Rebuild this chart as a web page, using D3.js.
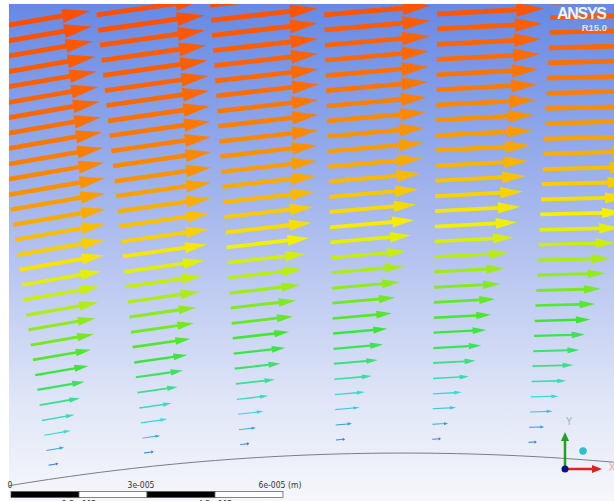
<!DOCTYPE html>
<html><head><meta charset="utf-8">
<script src="https://cdn.jsdelivr.net/npm/d3@7"></script>
<style>html,body{margin:0;padding:0;background:#fff;overflow:hidden}</style>
</head><body><svg id="c" width="614" height="501"></svg>
<script>
// ---- data ----
// wall distance of each mesh layer (micrometres)
const layerDistanceUm = [3.1, 6.4, 9.8, 13.1, 16.5, 19.9, 23.2, 26.6, 29.9, 33.3,
  36.6, 40.0, 43.3, 46.7, 50.0, 53.4, 56.7, 60.1, 63.4, 66.8,
  70.1, 73.5, 76.8, 80.2, 83.5, 86.9, 90.2, 93.6, 96.9, 100.3];
// normalised velocity magnitude of each layer (first column)
const layerSpeed = [0.085, 0.153, 0.229, 0.28, 0.347, 0.407, 0.458, 0.5, 0.542, 0.576,
  0.619, 0.653, 0.686, 0.725, 0.754, 0.775, 0.797, 0.815, 0.83, 0.844,
  0.854, 0.864, 0.873, 0.884, 0.888, 0.894, 0.898, 0.903, 0.91, 0.915];
// polar position of each column of nodes (deg, positive = left of top)
const columnPolarDeg = [8.45, 6.17, 3.89, 1.61, -0.67, -2.95];
// flow direction of each column (deg above horizontal)
const columnFlowDeg = [9.8, 8.1, 6.5, 5.0, 3.0, 1.5];
// near-wall speed factor of each column (boundary layer slows downstream)
const columnWallFactor = [1.0, 0.99, 0.95, 0.9, 0.86, 0.82];
// ruler
const rulerTicks = [0, 3e-5, 6e-5];
const rulerTickLabels = ["0", "3e-005", "6e-005"];
const rulerMidTicks = [1.5e-5, 4.5e-5];
const rulerMidLabels = ["1.5e-005", "4.5e-005"];
const cylinderCenterM = [8.67e-5, 0];
const cylinderRadiusM = 5.305e-4;

// ---- drawing ----
const W = 614, H = 501;
const svg = d3.select("#c");
const x = d3.scaleLinear().domain([0, 6e-5]).range([11, 283]);
const y = d3.scaleLinear().domain([0, 6e-5]).range([2858, 2586]);
const len = d3.scaleLinear().domain([0, 1]).range([0, 118]);
const color = d3.scaleLinear()
  .domain([0, 0.23, 0.47, 0.71, 0.96])
  .range(["#2a4cd8", "#3cd8e0", "#3ce632", "#f8f000", "#ff2a00"]).clamp(true);

const defs = svg.append("defs");
const g = defs.append("linearGradient").attr("id", "bg").attr("x1", 0).attr("y1", 0).attr("x2", 0).attr("y2", 1);
g.append("stop").attr("offset", "0%").attr("stop-color", "#6689e4");
g.append("stop").attr("offset", "45%").attr("stop-color", "#abbcee");
g.append("stop").attr("offset", "80%").attr("stop-color", "#e0e6f7");
g.append("stop").attr("offset", "100%").attr("stop-color", "#f6f7fb");
defs.append("clipPath").attr("id", "clip").append("rect").attr("x", 9).attr("y", 4).attr("width", W - 9).attr("height", H - 4);

svg.append("rect").attr("x", 9).attr("y", 4).attr("width", W - 9).attr("height", H - 4).attr("fill", "url(#bg)");

const plot = svg.append("g").attr("clip-path", "url(#clip)");

// wall (cylinder surface)
const wallAngles = d3.range(-12, 12.01, 0.25);
plot.append("path")
  .attr("d", d3.line()
    .x(a => x(cylinderCenterM[0] - cylinderRadiusM * Math.sin(a * Math.PI / 180)))
    .y(a => y(cylinderCenterM[1] + cylinderRadiusM * Math.cos(a * Math.PI / 180)))(wallAngles))
  .attr("fill", "none").attr("stroke", "#7a7d85").attr("stroke-width", 1);

// arrows
const nL = layerDistanceUm.length;
const arrows = [];
columnPolarDeg.forEach((phi, c) => {
  layerDistanceUm.forEach((d, k) => {
    const r = cylinderRadiusM + d * 1e-6;
    const p = phi * Math.PI / 180;
    const f = 1 - (1 - columnWallFactor[c]) * (1 - k / (nL - 1));
    const v = layerSpeed[k] * f;
    arrows.push({
      tx: x(cylinderCenterM[0] - r * Math.sin(p)),
      ty: y(cylinderCenterM[1] + r * Math.cos(p)),
      ang: columnFlowDeg[c], v
    });
  });
});
function arrowPath(L) {
  const t = Math.max(0.9, 0.045 * L) / 2, hl = 0.26 * L, hw = Math.max(1.6, 0.065 * L);
  const s = L - hl;
  return `M0,${-t}L${s},${-t}L${s},${-hw}L${L},0L${s},${hw}L${s},${t}L0,${t}Z`;
}
plot.append("g").selectAll("path").data(arrows).join("path")
  .attr("transform", d => `translate(${d.tx},${d.ty}) rotate(${-d.ang})`)
  .attr("d", d => arrowPath(len(d.v)))
  .attr("fill", d => color(d.v));

// logo
svg.append("text").attr("x", 607).attr("y", 19).attr("text-anchor", "end")
  .attr("font-family", "Liberation Sans, Arial, sans-serif").attr("font-weight", "bold")
  .attr("font-size", 16).attr("textLength", 50).attr("fill", "#f4f4f4").text("ANSYS");
svg.append("text").attr("x", 607).attr("y", 30.5).attr("text-anchor", "end")
  .attr("font-family", "Liberation Sans, Arial, sans-serif").attr("font-weight", "bold")
  .attr("font-size", 9.5).attr("fill", "#dfe4f4").text("R15.0");

// ruler
const ruler = svg.append("g");
const segs = [0, 1.5e-5, 3e-5, 4.5e-5, 6e-5];
for (let i = 0; i < 4; i++) {
  ruler.append("rect").attr("x", x(segs[i])).attr("y", 491.5).attr("width", x(segs[i + 1]) - x(segs[i])).attr("height", 6)
    .attr("fill", i % 2 === 0 ? "#000" : "#fff").attr("stroke", "#555").attr("stroke-width", 0.7);
}
const fontR = "Liberation Sans Narrow, Arial Narrow, DejaVu Sans Condensed, sans-serif";
const labelShift = [-1, -6, -11];
ruler.selectAll("text.t").data(rulerTicks).join("text").attr("class", "t")
  .attr("x", (d, i) => x(d) + labelShift[i]).attr("y", 488).attr("text-anchor", "middle")
  .attr("font-family", fontR).attr("font-size", 8.5).attr("fill", "#333")
  .text((d, i) => rulerTickLabels[i]);
ruler.append("text").attr("x", x(6e-5) + 5).attr("y", 488).attr("font-family", fontR)
  .attr("font-size", 8.5).attr("fill", "#333").text("(m)");
ruler.selectAll("text.m").data(rulerMidTicks).join("text").attr("class", "m")
  .attr("x", d => x(d)).attr("y", 507).attr("text-anchor", "middle")
  .attr("font-family", fontR).attr("font-size", 8.5).attr("fill", "#333")
  .text((d, i) => rulerMidLabels[i]);

// axis triad
const tri = svg.append("g");
const ox = 565, oy = 469;
tri.append("line").attr("x1", ox).attr("y1", oy).attr("x2", ox).attr("y2", 441).attr("stroke", "#22a022").attr("stroke-width", 2.5);
tri.append("path").attr("d", `M${ox - 4},${441}L${ox},${432}L${ox + 4},${441}Z`).attr("fill", "#22a022");
tri.append("line").attr("x1", ox).attr("y1", oy).attr("x2", 592).attr("y2", oy).attr("stroke", "#e02020").attr("stroke-width", 2.5);
tri.append("path").attr("d", `M${592},${oy - 4}L${602},${oy}L${592},${oy + 4}Z`).attr("fill", "#e02020");
tri.append("circle").attr("cx", ox).attr("cy", oy).attr("r", 3.5).attr("fill", "#10108a");
tri.append("circle").attr("cx", 583).attr("cy", 451).attr("r", 3.8).attr("fill", "#2cc0cc");
tri.append("text").attr("x", 569).attr("y", 425).attr("text-anchor", "middle").attr("font-family", "DejaVu Sans, sans-serif")
  .attr("font-size", 10).attr("fill", "#9cb8a8").text("Y");
tri.append("text").attr("x", 612).attr("y", 471).attr("text-anchor", "middle").attr("font-family", "DejaVu Sans, sans-serif")
  .attr("font-size", 10).attr("fill", "#f0a8a8").text("X");
</script></body></html>
